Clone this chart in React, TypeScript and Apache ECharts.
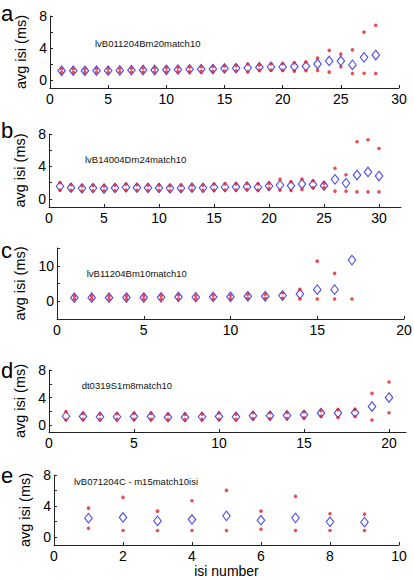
import React, { useEffect, useRef } from "react";
import * as echarts from "echarts";

// ---- data ----
const meanA = [1.15, 1.16, 1.15, 1.16, 1.17, 1.2, 1.22, 1.25, 1.25, 1.28, 1.3, 1.33, 1.35, 1.37, 1.44, 1.47, 1.52, 1.6, 1.64, 1.64, 1.68, 1.72, 2.0, 2.38, 2.38, 1.89, 2.83, 3.12];
const highA = [1.4, 1.4, 1.38, 1.4, 1.42, 1.45, 1.48, 1.5, 1.5, 1.55, 1.58, 1.62, 1.65, 1.68, 1.75, 1.8, 2.0, 1.89, 2.0, 2.03, 2.14, 2.26, 2.75, 3.7, 3.24, 3.77, 5.99, 6.85];
const lowA = [0.95, 0.95, 0.95, 0.95, 0.95, 1.0, 1.0, 1.0, 1.0, 1.02, 1.05, 1.05, 1.08, 1.1, 1.12, 1.15, 1.03, 1.23, 1.23, 1.2, 1.11, 1.15, 1.2, 0.98, 1.65, 0.82, 0.84, 0.82];

const meanB = [1.55, 1.38, 1.3, 1.33, 1.28, 1.35, 1.42, 1.38, 1.36, 1.35, 1.3, 1.32, 1.38, 1.36, 1.42, 1.45, 1.47, 1.5, 1.45, 1.58, 1.7, 1.62, 1.83, 1.78, 1.62, 2.41, 1.95, 2.94, 3.32, 2.82];
const highB = [2.0, 1.75, 1.6, 1.65, 1.6, 1.7, 1.8, 1.75, 1.7, 1.7, 1.6, 1.65, 1.7, 1.7, 1.8, 1.85, 1.85, 1.9, 1.85, 1.91, 2.41, 2.11, 2.45, 2.24, 1.95, 3.77, 2.98, 7.04, 7.29, 6.21];
const lowB = [1.08, 1.05, 1.0, 1.0, 1.0, 1.0, 1.08, 1.05, 1.05, 1.05, 1.0, 1.0, 1.05, 1.05, 1.1, 1.1, 1.1, 1.15, 1.1, 1.29, 1.08, 1.04, 1.17, 1.37, 1.41, 0.96, 0.96, 0.87, 0.87, 0.87];

const meanC = [1.0, 1.0, 1.0, 1.05, 1.05, 1.1, 1.2, 1.15, 1.2, 1.25, 1.4, 1.4, 1.6, 2.05, 3.27, 3.27, 11.6];
const highC: (number | null)[] = [1.5, 1.5, 1.5, 1.5, 1.6, 1.6, 1.8, 1.6, 1.7, 1.7, 2.0, 2.0, 2.4, 3.36, 11.3, 7.85, null];
const lowC = [0.6, 0.6, 0.6, 0.6, 0.6, 0.6, 0.6, 0.6, 0.65, 0.7, 0.8, 0.8, 0.85, 0.65, 0.65, 0.65, 0.65];

const meanD = [1.3, 1.25, 1.2, 1.2, 1.25, 1.25, 1.15, 1.15, 1.2, 1.25, 1.2, 1.35, 1.35, 1.4, 1.5, 1.75, 1.75, 1.8, 2.7, 4.0];
const highD = [1.95, 1.7, 1.6, 1.65, 1.7, 1.7, 1.55, 1.55, 1.6, 1.75, 1.6, 1.8, 1.8, 1.85, 1.9, 2.1, 2.25, 2.25, 4.6, 6.25];
const lowD = [0.75, 0.85, 0.85, 0.85, 0.85, 0.85, 0.8, 0.8, 0.85, 0.85, 0.85, 0.95, 0.95, 0.95, 1.05, 1.3, 1.1, 1.25, 0.75, 1.8];

const meanE = [2.45, 2.54, 2.1, 2.28, 2.75, 2.19, 2.49, 1.98, 1.94];
const highE = [3.74, 5.12, 3.35, 4.69, 6.02, 3.35, 5.25, 3.01, 2.97];
const lowE = [1.16, 0.86, 0.86, 0.86, 0.86, 1.03, 0.86, 0.86, 0.86];

const panelLetters = ["a", "b", "c", "d", "e"];
const panelNotes = [
  "lvB011204Bm20match10",
  "lvB14004Dm24match10",
  "lvB11204Bm10match10",
  "dt0319S1m8match10",
  "lvB071204C - m15match10isi",
];
const yName = "avg isi (ms)";
const xName = "isi number";

const xTicks = [
  [0, 5, 10, 15, 20, 25, 30],
  [0, 5, 10, 15, 20, 25, 30],
  [0, 5, 10, 15, 20],
  [0, 5, 10, 15, 20],
  [0, 2, 4, 6, 8, 10],
];
const xRanges = [[0, 30], [0, 32], [0, 20], [0, 21], [0, 10]];
const yRanges = [[-1, 8], [-1, 8], [-5, 15], [-1, 8], [-1, 8]];
const yTicks = [
  [0, 2, 4, 6, 8],
  [0, 2, 4, 6, 8],
  [-5, 0, 5, 10, 15],
  [0, 2, 4, 6, 8],
  [0, 2, 4, 6, 8],
];
const yLabels = [[0, 4, 8], [0, 4, 8], [0, 10], [0, 4, 8], [0, 4, 8]];

// ---- layout ----
const grids = [
  { left: 50, top: 16, width: 349, height: 72 },
  { left: 49, top: 134, width: 352, height: 73 },
  { left: 57, top: 248, width: 347, height: 71 },
  { left: 49, top: 370, width: 357, height: 62 },
  { left: 54, top: 475, width: 345, height: 70 },
];
const nameGaps = [11, 9, 16, 9, 12];
const letterPos = [
  [1, 13.4],
  [1, 130.4],
  [1, 250],
  [1, 370.4],
  [1, 475.4],
];
const notePos = [
  [95, 43.3],
  [85, 159.3],
  [86.7, 273.3],
  [81.7, 385],
  [74, 481.7],
];

const FONT = "'Liberation Sans', Arial, Helvetica, sans-serif";
const BLUE = "#1c1ce8";
const RED = "#e4202c";

export default function App() {
  const ref = useRef<HTMLDivElement>(null);
  useEffect(() => {
    if (!ref.current) return;
    const chart = echarts.init(ref.current, undefined, { renderer: "svg" });
    const means = [meanA, meanB, meanC, meanD, meanE];
    const highs: (number | null)[][] = [highA, highB, highC, highD, highE];
    const lows = [lowA, lowB, lowC, lowD, lowE];

    const axisLine = { show: true, lineStyle: { color: "#222", width: 1 } };
    const option: any = {
      animation: false,
      backgroundColor: "#fff",
      grid: grids.map((g) => ({ ...g, containLabel: false, outerBoundsMode: "none" })),
      xAxis: grids.map((_, i) => ({
        type: "value",
        gridIndex: i,
        min: xRanges[i][0],
        max: xRanges[i][1],
        axisLine: { ...axisLine, onZero: false },
        axisTick: { show: true, inside: true, length: 3, customValues: xTicks[i], lineStyle: { color: "#222" } },
        axisLabel: { customValues: xTicks[i], color: "#000", fontSize: 14, fontFamily: FONT, margin: 4 },
        splitLine: { show: false },
        name: i === 4 ? xName : "",
        nameLocation: "middle",
        nameGap: 19,
        nameTextStyle: { color: "#000", fontSize: 14, fontFamily: FONT },
      })),
      yAxis: grids.map((_, i) => ({
        type: "value",
        gridIndex: i,
        min: yRanges[i][0],
        max: yRanges[i][1],
        axisLine: { ...axisLine, onZero: false },
        axisTick: { show: true, inside: true, length: 3, customValues: yTicks[i], lineStyle: { color: "#222" } },
        axisLabel: { customValues: yLabels[i], color: "#000", fontSize: 14, fontFamily: FONT, margin: 3 },
        splitLine: { show: false },
        name: yName,
        nameLocation: "middle",
        nameGap: nameGaps[i],
        nameTextStyle: { color: "#000", fontSize: 14.5, fontFamily: FONT },
      })),
      series: [] as any[],
      graphic: [] as any[],
    };

    for (let i = 0; i < 5; i++) {
      option.series.push({
        type: "scatter",
        xAxisIndex: i,
        yAxisIndex: i,
        symbol: "diamond",
        symbolSize: [7.5, 9.5],
        itemStyle: { color: "rgba(255,255,255,0)", borderColor: BLUE, borderWidth: 1.1 },
        data: means[i].map((v, k) => [k + 1, v]),
        z: 2,
      });
      const reds: number[][] = [];
      highs[i].forEach((v, k) => {
        if (v != null) reds.push([k + 1, v]);
      });
      lows[i].forEach((v, k) => reds.push([k + 1, v]));
      option.series.push({
        type: "scatter",
        xAxisIndex: i,
        yAxisIndex: i,
        symbol: "circle",
        symbolSize: 3.6,
        itemStyle: { color: RED },
        data: reds,
        z: 3,
      });
      option.graphic.push({
        type: "text",
        x: letterPos[i][0],
        y: letterPos[i][1],
        style: {
          text: panelLetters[i],
          font: `22px ${FONT}`,
          fill: "#000",
          textVerticalAlign: "middle",
        },
      });
      option.graphic.push({
        type: "text",
        x: notePos[i][0],
        y: notePos[i][1],
        style: {
          text: panelNotes[i],
          font: `9.5px ${FONT}`,
          fill: "#111",
          textVerticalAlign: "middle",
        },
      });
    }

    chart.setOption(option);
    return () => chart.dispose();
  }, []);
  return (
    <div
      ref={ref}
      style={{ position: "fixed", left: 0, top: 0, width: 414, height: 582, background: "#fff" }}
    />
  );
}
